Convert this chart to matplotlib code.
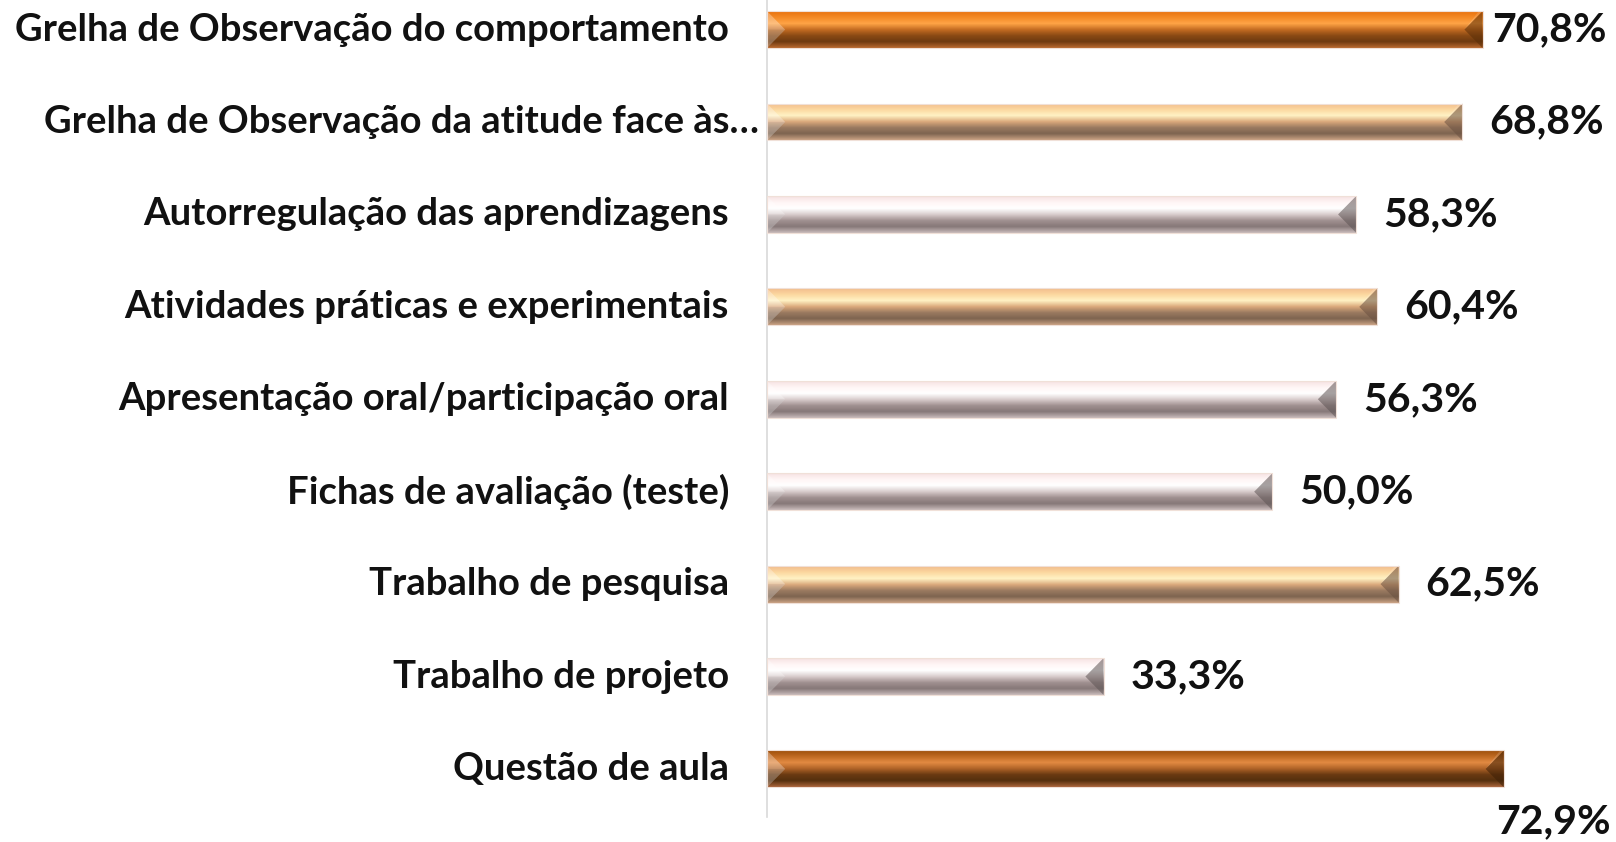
import numpy as np
import matplotlib
matplotlib.use("Agg")
import matplotlib.pyplot as plt
from matplotlib.colors import LinearSegmentedColormap
from matplotlib.transforms import offset_copy

# data (top to bottom as in the chart)
categories = [
    "Grelha de Observação do comportamento",
    "Grelha de Observação da atitude face às…",
    "Autorregulação das aprendizagens",
    "Atividades práticas e experimentais",
    "Apresentação oral/participação oral",
    "Fichas de avaliação (teste)",
    "Trabalho de pesquisa",
    "Trabalho de projeto",
    "Questão de aula",
]
values = [70.8, 68.8, 58.3, 60.4, 56.3, 50.0, 62.5, 33.3, 72.9]
value_labels = ["70,8%", "68,8%", "58,3%", "60,4%", "56,3%", "50,0%", "62,5%", "33,3%", "72,9%"]
bar_kind = ["orange", "peach", "pale", "peach", "pale", "pale", "peach", "pale", "brown"]

# vertical gradients (bottom -> top) imitating the bevelled Excel bars
gradients = {
    "orange": ["#b8682e", "#6e3a10", "#8a4a14", "#c46c22", "#ffa446", "#f48a26", "#e8720e"],
    "brown":  ["#a8643a", "#55300e", "#6a3a12", "#b06428", "#e28a42", "#c06a22", "#9c4e0a"],
    "peach":  ["#c8a082", "#7e6450", "#9a7a60", "#dcaa7c", "#fff2c4", "#fcd8a0", "#f2bc8c"],
    "pale":   ["#c8baba", "#867878", "#a09090", "#d8cccc", "#ffffff", "#fff6f6", "#f6e2e2"],
}
end_dark = {"orange": "#5a2e08", "brown": "#3e2006", "peach": "#6a5040", "pale": "#5e5454"}

font = ["Lato", "DejaVu Sans"]

fig = plt.figure(figsize=(16.16, 8.42), dpi=100)
ax = fig.add_axes([767 / 1616, 25 / 842, 1 - 767 / 1616, 817 / 842])

n = len(categories)
ypos = np.arange(n)[::-1]
h = 0.40
bev = 1.8

for y, v, kind in zip(ypos, values, bar_kind):
    bar = ax.barh(y, v, height=h, color="none", edgecolor="#f0e0d8", linewidth=0.8, zorder=3)[0]
    cmap = LinearSegmentedColormap.from_list(kind, gradients[kind])
    grad = np.linspace(0, 1, 64).reshape(-1, 1)
    im = ax.imshow(grad, cmap=cmap, aspect="auto", origin="lower",
                   extent=[0, v, y - h / 2, y + h / 2], zorder=2, interpolation="bilinear")
    im.set_clip_path(bar)
    # bevel caps
    ax.fill([v, v - bev, v], [y + h / 2, y, y - h / 2], color=end_dark[kind], alpha=0.55, zorder=2.5, lw=0)
    ax.fill([v - bev, v - bev * 0.2, v], [y, y + h / 2, y + h / 2], color="white", alpha=0.15, zorder=2.5, lw=0)
    ax.fill([0, bev, 0], [y + h / 2, y, y - h / 2], color="white", alpha=0.3, zorder=2.5, lw=0)
    ax.fill([0, bev, 0], [y - h / 2, y, y], color=end_dark[kind], alpha=0.1, zorder=2.5, lw=0)

ax.set_xlim(0, 84.0)
ax.set_ylim(-0.52, n - 1 + 0.32)

for s in ["top", "right", "bottom"]:
    ax.spines[s].set_visible(False)
ax.spines["left"].set_color("#d9d9d9")
ax.spines["left"].set_linewidth(1.2)
ax.set_xticks([])
ax.set_yticks([])

# category labels
for y, cat in zip(ypos, categories):
    dx = -38 if not cat.endswith("…") else -8
    tr = offset_copy(ax.get_yaxis_transform(), fig=fig, x=dx, y=0, units="dots")
    ax.text(0, y, cat, transform=tr, ha="right", va="center",
            fontsize=27.5, fontweight="bold", family=font, color="#111111")

# value labels
for y, v, lab in zip(ypos, values, value_labels):
    if v == max(values):
        tr = offset_copy(ax.transData, fig=fig, x=-8, y=-53, units="dots")
    elif v > 70:
        tr = offset_copy(ax.transData, fig=fig, x=10, y=0, units="dots")
    else:
        tr = offset_copy(ax.transData, fig=fig, x=27, y=0, units="dots")
    ax.text(v, y, lab, transform=tr, ha="left", va="center",
            fontsize=29.5, fontweight="bold", family=font, color="#111111")

fig.savefig("out.png", dpi=100)
